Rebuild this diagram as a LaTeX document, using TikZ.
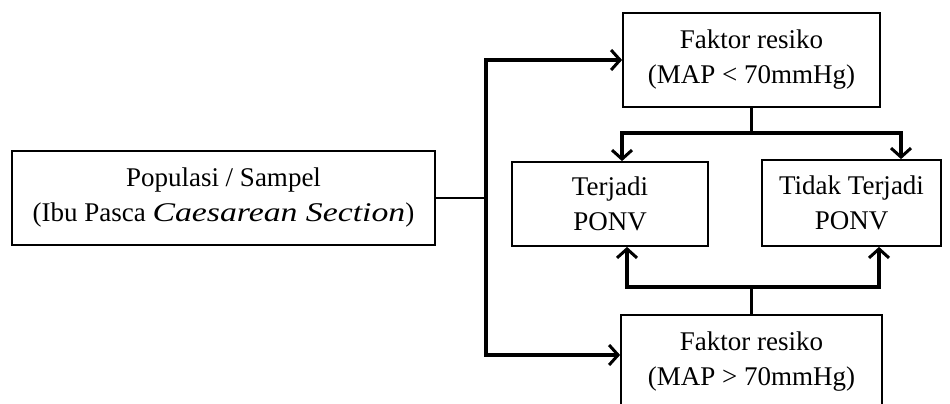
\documentclass[tikz,border=0pt]{standalone}
\usepackage{fontspec}
\setmainfont{Liberation Serif}
\newfontfamily\wideitfont{Liberation Serif}[FakeStretch=1.25]
\usetikzlibrary{arrows.meta,calc}
\begin{document}
\begin{tikzpicture}[x=1pt,y=-1pt,
  boxnode/.style={draw,line width=1.8pt,inner sep=0pt,align=center,
    font=\fontsize{27}{35}\selectfont},
  conn/.style={line width=3.4pt},
  arr/.style={conn,-{Straight Barb[length=9pt,width=20pt,line width=3pt]}}]
\clip (0,0) rectangle (950,404);
\useasboundingbox (0,0) rectangle (950,404);
\node[boxnode,minimum width=423pt,minimum height=94pt] (pop) at (223.5,198)
  {Populasi / Sampel\\(Ibu Pasca {\wideitfont\itshape Caesarean Section})};
\node[boxnode,minimum width=257pt,minimum height=94pt] (top) at (751.5,60)
  {Faktor resiko\\(MAP < 70mmHg)};
\node[boxnode,minimum width=196pt,minimum height=84pt] (terj) at (610,204)
  {Terjadi\\PONV};
\node[boxnode,minimum width=179pt,minimum height=86pt] (tidak) at (851.5,203)
  {Tidak Terjadi\\PONV};
\node[boxnode,minimum width=261pt,minimum height=94pt] (bot) at (751.5,362)
  {Faktor resiko\\(MAP > 70mmHg)};
% trunk
\coordinate (trunk) at (486,198);
\coordinate (trtop) at (486,60);
\coordinate (trbot) at (486,355);
\draw[line width=2.4pt] (pop.east) -- (trunk);
\draw[conn,line cap=rect] (trtop) -- (trbot);
\draw[arr] (trtop) -- (top.west);
\draw[arr] (trbot) -- (trbot -| bot.west);
% top split
\coordinate (tsplit) at ($(top.south)+(0,26)$);
\coordinate (tl) at (622,133);
\coordinate (tr) at (901,133);
\draw[line width=2.4pt] (top.south) -- (tsplit);
\draw[conn,line cap=rect] (tl) -- (tr);
\draw[arr] (tl) -- (tl |- terj.north);
\draw[arr] (tr) -- (tr |- tidak.north);
% bottom split
\coordinate (bsplit) at ($(bot.north)+(0,-28)$);
\coordinate (bl) at (627,287);
\coordinate (br) at (879,287);
\draw[line width=2.4pt] (bot.north) -- (bsplit);
\draw[conn,line cap=rect] (bl) -- (br);
\draw[arr] (bl) -- (bl |- terj.south);
\draw[arr] (br) -- (br |- tidak.south);
\end{tikzpicture}
\end{document}
